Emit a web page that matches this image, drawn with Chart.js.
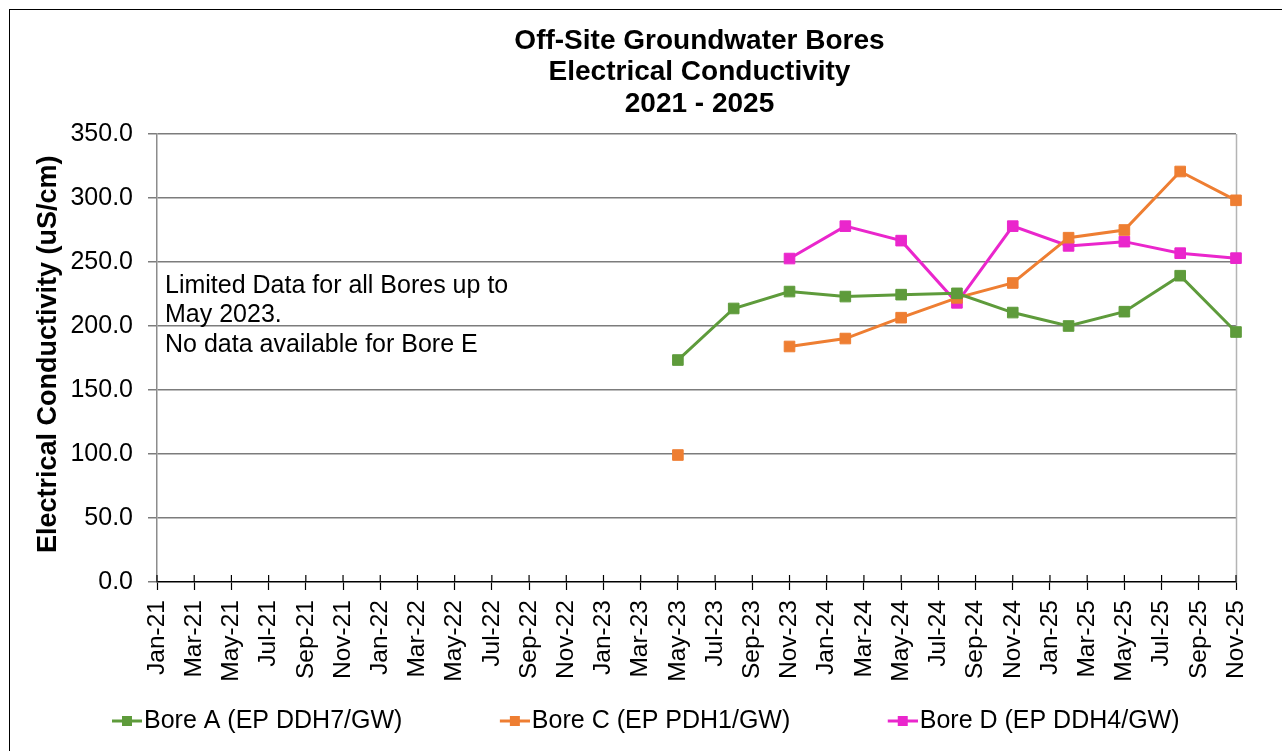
<!DOCTYPE html>
<html>
<head>
<meta charset="utf-8">
<title>Off-Site Groundwater Bores - Electrical Conductivity</title>
<script src="https://cdn.jsdelivr.net/npm/chart.js@4/dist/chart.umd.min.js"></script>
<style>
  html, body { margin: 0; padding: 0; background: #fff; overflow: hidden; }
  canvas { display: block; }
</style>
</head>
<body>
<canvas id="ecChart" width="1282" height="751"></canvas>
<script>
// Monthly axis categories, Jan-21 .. Nov-25 (labels shown every second month)
const monthNames = ['Jan', 'Feb', 'Mar', 'Apr', 'May', 'Jun', 'Jul', 'Aug', 'Sep', 'Oct', 'Nov', 'Dec'];
const months = [];
for (let yr = 21; yr <= 25; yr++) {
    for (let m = 0; m < 12; m++) {
        if (yr === 25 && m > 10) break;
        months.push(monthNames[m] + '-' + yr);
    }
}

// Sampling rounds
const sampleMonths = ['May-23', 'Aug-23', 'Nov-23', 'Feb-24', 'May-24', 'Aug-24', 'Nov-24', 'Feb-25', 'May-25', 'Aug-25', 'Nov-25'];

// Electrical conductivity (uS/cm) per bore
const boreA = [173.4, 213.7, 226.9, 223.0, 224.5, 225.5, 210.5, 200.0, 211.2, 239.3, 195.3];
const boreC = [99.2, null, 184.0, 190.2, 206.5, 222.0, 233.6, 269.0, 275.0, 320.7, 298.2];
const boreD = [null, null, 252.7, 278.0, 266.7, 218.1, 278.0, 262.6, 265.9, 256.9, 253.0];

const seriesLabels = ['Bore A (EP DDH7/GW)', 'Bore C (EP PDH1/GW)', 'Bore D (EP DDH4/GW)'];
const seriesColors = ['#5e9b3b', '#ee7e32', '#ea26cc'];

const yTicks = [0, 50, 100, 150, 200, 250, 300, 350];

const titleLines = ['Off-Site Groundwater Bores', 'Electrical Conductivity', '2021 - 2025'];
const noteLines = ['Limited Data for all Bores up to', 'May 2023.', 'No data available for Bore E'];

const FONT = '"Liberation Sans", Arial, Helvetica, sans-serif';
Chart.defaults.font.family = FONT;
Chart.defaults.color = '#000';

const LEGEND_BOX = 107;

// Legend marker: short line with a square in the middle, right-aligned in the image
function makeMarker(color) {
    const c = document.createElement('canvas');
    c.width = LEGEND_BOX + 21;
    c.height = 14;
    const g = c.getContext('2d');
    const end = c.width;
    g.strokeStyle = color;
    g.lineWidth = 3;
    g.beginPath();
    g.moveTo(end - 30, 7);
    g.lineTo(end, 7);
    g.stroke();
    g.fillStyle = color;
    g.fillRect(end - 20, 2, 10, 10);
    return c;
}

function toPoints(values) {
    return sampleMonths.map((m, i) => ({ x: m, y: values[i] }));
}

// Outer frame, plot right edge, heading, note and inner x tick marks
const decorations = {
    id: 'decorations',
    beforeDraw(chart) {
        const ctx = chart.ctx;
        ctx.save();
        ctx.fillStyle = '#fff';
        ctx.fillRect(0, 0, chart.width, chart.height);
        ctx.strokeStyle = '#000';
        ctx.lineWidth = 1;
        ctx.strokeRect(9.5, 9.5, chart.width + 20, chart.height + 20);
        ctx.restore();
    },
    beforeDatasetsDraw(chart) {
        const ctx = chart.ctx;
        const area = chart.chartArea;
        const xs = chart.scales.x;
        ctx.save();
        // right edge of the plot
        ctx.strokeStyle = '#b4b4b4';
        ctx.lineWidth = 1.5;
        ctx.beginPath();
        ctx.moveTo(area.right + 0.5, area.top);
        ctx.lineTo(area.right + 0.5, area.bottom);
        ctx.stroke();
        // tick marks crossing into the plot
        ctx.strokeStyle = '#000';
        ctx.lineWidth = 1.2;
        xs.ticks.forEach((t, i) => {
            if (i % 2) return;
            const px = xs.getPixelForTick(i);
            ctx.beginPath();
            ctx.moveTo(px, area.bottom - 7);
            ctx.lineTo(px, area.bottom);
            ctx.stroke();
        });
        // note
        ctx.fillStyle = '#000';
        ctx.font = '25px ' + FONT;
        ctx.textAlign = 'left';
        ctx.textBaseline = 'alphabetic';
        noteLines.forEach((line, i) => {
            ctx.fillText(line, area.left + 8, area.top + 159 + i * 29.3);
        });
        ctx.restore();
    },
    afterDraw(chart) {
        const ctx = chart.ctx;
        const area = chart.chartArea;
        ctx.save();
        ctx.fillStyle = '#000';
        ctx.font = 'bold 28px ' + FONT;
        ctx.textAlign = 'center';
        ctx.textBaseline = 'middle';
        const cx = (area.left + area.right) / 2 + 3;
        titleLines.forEach((line, i) => {
            ctx.fillText(line, cx, 41 + i * 31.5);
        });
        ctx.restore();
    }
};

const canvas = document.getElementById('ecChart');

new Chart(canvas, {
    type: 'line',
    data: {
        labels: months,
        datasets: [boreA, boreC, boreD].map((vals, i) => ({
            label: seriesLabels[i],
            data: toPoints(vals),
            borderColor: seriesColors[i],
            backgroundColor: seriesColors[i],
            borderWidth: 3,
            pointStyle: 'rect',
            pointRadius: 7.5,
            pointBorderWidth: 1,
            pointBackgroundColor: seriesColors[i],
            pointBorderColor: seriesColors[i],
            tension: 0,
            spanGaps: false
        }))
    },
    options: {
        responsive: false,
        animation: false,
        events: [],
        layout: {
            padding: { left: 14.5, right: 46, top: 134, bottom: 7.5 }
        },
        scales: {
            x: {
                type: 'category',
                offset: false,
                grid: {
                    drawOnChartArea: false,
                    drawTicks: true,
                    tickLength: 8,
                    tickWidth: 1.2,
                    tickColor: (c) => (c.index % 2 === 0 ? '#000' : 'rgba(0,0,0,0)')
                },
                border: { color: '#000', width: 1.5 },
                ticks: {
                    autoSkip: false,
                    minRotation: 90,
                    maxRotation: 90,
                    padding: 10,
                    color: '#000',
                    font: { size: 24.5 },
                    callback: function (value, index) {
                        return index % 2 === 0 ? this.getLabelForValue(value) : '';
                    }
                },
                afterFit: (scale) => { scale.height = 116.5; }
            },
            y: {
                min: 0,
                max: 350,
                afterBuildTicks: (scale) => { scale.ticks = yTicks.map(v => ({ value: v })); },
                grid: {
                    color: (c) => (c.tick && c.tick.value === 0 ? 'rgba(0,0,0,0)' : '#7c7c7c'),
                    lineWidth: 1.5,
                    tickLength: 9,
                    tickColor: '#7c7c7c'
                },
                border: { color: '#8c8c8c', width: 1.5 },
                ticks: {
                    padding: 15,
                    color: '#000',
                    font: { size: 25 },
                    callback: (v) => Number(v).toFixed(1)
                },
                title: {
                    display: true,
                    text: ' Electrical Conductivity (uS/cm)',
                    color: '#000',
                    font: { size: 27, weight: 'bold' },
                    padding: { top: 17.5, bottom: 0 }
                },
                afterFit: (scale) => { scale.width = 157 - 14.5; }
            }
        },
        plugins: {
            title: { display: false },
            tooltip: { enabled: false },
            legend: {
                position: 'bottom',
                align: 'start',
                labels: {
                    usePointStyle: true,
                    pointStyleWidth: LEGEND_BOX,
                    padding: 10,
                    color: '#000',
                    font: { size: 25 },
                    generateLabels: (chart) => chart.data.datasets.map((ds, i) => ({
                        text: ds.label,
                        pointStyle: makeMarker(seriesColors[i]),
                        fontColor: '#000',
                        fillStyle: seriesColors[i],
                        strokeStyle: seriesColors[i],
                        lineWidth: 0,
                        hidden: false,
                        datasetIndex: i
                    }))
                }
            }
        }
    },
    plugins: [decorations]
});
</script>
</body>
</html>
